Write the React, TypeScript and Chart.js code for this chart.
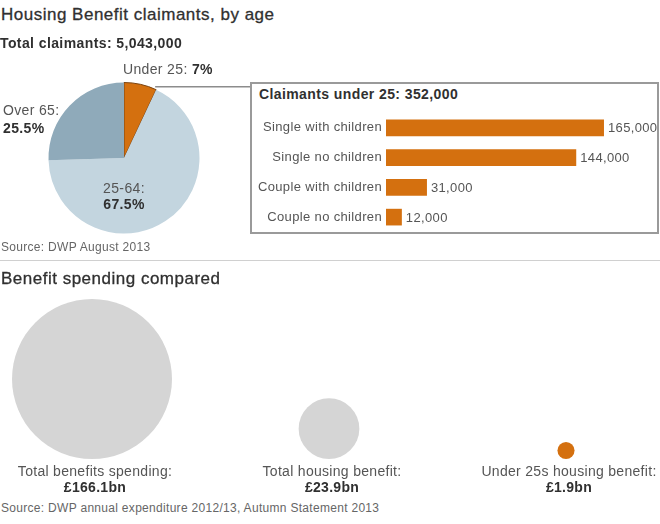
import React, { useEffect, useRef } from "react";
import { Chart, registerables } from "chart.js";

Chart.register(...registerables);

const FONT = '"Liberation Sans", Arial, Helvetica, sans-serif';

// ---- Data ----
const pieLabels = ["Under 25", "25-64", "Over 65"];
const pieShares = [7, 67.5, 25.5];
const totalClaimants = "5,043,000";

const under25Categories = [
  "Single with children",
  "Single no children",
  "Couple with children",
  "Couple no children",
];
const under25Values = [165000, 144000, 31000, 12000];
const under25Total = "352,000";

const spendingLabels = [
  "Total benefits spending:",
  "Total housing benefit:",
  "Under 25s housing benefit:",
];
const spendingValues = [166.1, 23.9, 1.9]; // £bn

// ---- Styles ----
const ORANGE = "#d4700f";
const PIE_COLORS = [ORANGE, "#c3d5df", "#8faaba"];
const BUBBLE_COLORS = ["#d5d5d5", "#d5d5d5", ORANGE];
const MAX_R = 80;
const DARK = "#303030";

const fmt = (v: number) => String(v).replace(/\B(?=(\d{3})+(?!\d))/g, ",");

function Txt(props: {
  left: number;
  top: number;
  size: number;
  bold?: boolean;
  color?: string;
  ls?: number;
  width?: number;
  align?: "left" | "center";
  stroke?: number;
  children: React.ReactNode;
}) {
  const { left, top, size, bold, color, ls, width, align, stroke, children } = props;
  const c = color || "#555";
  return (
    <div
      style={{
        position: "absolute",
        left,
        top,
        width,
        fontSize: size,
        lineHeight: `${size}px`,
        fontWeight: bold ? 700 : 400,
        color: c,
        letterSpacing: ls !== undefined ? ls : 0,
        whiteSpace: "nowrap",
        textAlign: align || "left",
        WebkitTextStroke: stroke ? `${stroke}px ${c}` : undefined,
      }}
    >
      {children}
    </div>
  );
}

function PieChart() {
  const ref = useRef<HTMLCanvasElement>(null);
  useEffect(() => {
    const connector = {
      id: "connector",
      afterDatasetsDraw(chart: any) {
        const arc = chart.getDatasetMeta(0).data[0];
        const p = arc.getProps(["x", "y", "endAngle", "outerRadius"], true);
        const tx = p.x + p.outerRadius * Math.cos(p.endAngle);
        const ty = p.y + p.outerRadius * Math.sin(p.endAngle) - 3;
        const ctx = chart.ctx;
        ctx.save();
        ctx.strokeStyle = "#8c8c8c";
        ctx.lineWidth = 1.5;
        ctx.beginPath();
        ctx.moveTo(tx - 1, ty);
        ctx.lineTo(chart.width, ty);
        ctx.stroke();
        ctx.restore();
      },
    };
    const chart = new Chart(ref.current!, {
      type: "pie",
      data: {
        labels: pieLabels,
        datasets: [
          {
            data: pieShares,
            backgroundColor: PIE_COLORS,
            borderColor: ["#7a4412", "#c3d5df", "#8faaba"],
            borderWidth: [1, 0, 0],
          },
        ],
      },
      options: {
        responsive: false,
        animation: false,
        devicePixelRatio: 1,
        events: [],
        layout: { autoPadding: false, padding: { left: 48, right: 50, top: 22, bottom: 6 } },
        plugins: { legend: { display: false }, tooltip: { enabled: false } },
      },
      plugins: [connector],
    } as any);
    return () => chart.destroy();
  }, []);
  return (
    <canvas
      ref={ref}
      width={250}
      height={180}
      style={{ position: "absolute", left: 0, top: 60, width: 250, height: 180 }}
    />
  );
}

function BarChart() {
  const ref = useRef<HTMLCanvasElement>(null);
  useEffect(() => {
    const spacing = {
      id: "spacing",
      beforeDraw(chart: any) {
        chart.ctx.letterSpacing = "0.35px";
      },
    };
    const valueLabels = {
      id: "valueLabels",
      afterDatasetsDraw(chart: any) {
        const ctx = chart.ctx;
        const meta = chart.getDatasetMeta(0);
        ctx.save();
        ctx.letterSpacing = "0.35px";
        ctx.font = `13px ${FONT}`;
        ctx.fillStyle = "#555";
        ctx.textAlign = "left";
        ctx.textBaseline = "middle";
        meta.data.forEach((bar: any, i: number) => {
          ctx.fillText(fmt(under25Values[i]), bar.x + 4, bar.y + 1);
        });
        ctx.restore();
      },
    };
    const chart = new Chart(ref.current!, {
      type: "bar",
      data: {
        labels: under25Categories,
        datasets: [
          {
            data: under25Values,
            backgroundColor: ORANGE,
            borderWidth: 0,
            categoryPercentage: 1,
            barPercentage: 0.56,
          },
        ],
      },
      options: {
        indexAxis: "y",
        responsive: false,
        animation: false,
        devicePixelRatio: 1,
        events: [],
        layout: { autoPadding: false, padding: { top: 8, right: 20, bottom: 0, left: 0 } },
        scales: {
          x: { display: false, min: 0, max: 190000 },
          y: {
            grid: { display: false, drawTicks: false },
            border: { display: false },
            ticks: { color: "#555", font: { family: FONT, size: 13 }, padding: 4 },
            afterFit(axis: any) {
              axis.width = 134;
              axis.paddingTop = 0;
              axis.paddingBottom = 0;
            },
          },
        },
        plugins: { legend: { display: false }, tooltip: { enabled: false } },
      },
      plugins: [spacing, valueLabels],
    } as any);
    return () => chart.destroy();
  }, []);
  return (
    <canvas
      ref={ref}
      width={405}
      height={127}
      style={{ position: "absolute", left: 252, top: 105, width: 405, height: 127 }}
    />
  );
}

function BubbleChart() {
  const ref = useRef<HTMLCanvasElement>(null);
  useEffect(() => {
    const maxV = Math.max(...spendingValues);
    const points = spendingValues.map((v, i) => {
      const r = MAX_R * Math.sqrt(v / maxV);
      return { x: i, y: r, r };
    });
    const labels = {
      id: "bubbleLabels",
      afterDatasetsDraw(chart: any) {
        const ctx = chart.ctx;
        const meta = chart.getDatasetMeta(0);
        const bottom = chart.chartArea.bottom;
        ctx.save();
        ctx.letterSpacing = "0.3px";
        ctx.textAlign = "center";
        ctx.textBaseline = "alphabetic";
        meta.data.forEach((el: any, i: number) => {
          ctx.font = `14px ${FONT}`;
          ctx.fillStyle = "#555";
          ctx.fillText(spendingLabels[i], el.x + 3, bottom + 17);
          ctx.font = `bold 14px ${FONT}`;
          ctx.fillStyle = DARK;
          ctx.fillText(`£${spendingValues[i]}bn`, el.x + 3, bottom + 33);
        });
        ctx.restore();
      },
    };
    const chart = new Chart(ref.current!, {
      type: "bubble",
      data: {
        labels: spendingLabels,
        datasets: [
          {
            data: points,
            backgroundColor: BUBBLE_COLORS,
            borderWidth: 0,
            clip: false,
          },
        ],
      },
      options: {
        responsive: false,
        animation: false,
        devicePixelRatio: 1,
        events: [],
        layout: { autoPadding: false, padding: { left: 92, right: 94, top: 5, bottom: 41 } },
        scales: {
          x: { type: "linear", display: false, min: 0, max: 2 },
          y: { type: "linear", display: false, min: 0, max: 164 },
        },
        plugins: { legend: { display: false }, tooltip: { enabled: false } },
      },
      plugins: [labels],
    } as any);
    return () => chart.destroy();
  }, []);
  return (
    <canvas
      ref={ref}
      width={660}
      height={210}
      style={{ position: "absolute", left: 0, top: 290, width: 660, height: 210 }}
    />
  );
}

export default function App() {
  return (
    <div
      style={{
        position: "absolute",
        left: 0,
        top: 0,
        width: 660,
        height: 524,
        background: "#fff",
        overflow: "hidden",
        fontFamily: FONT,
      }}
    >
      <PieChart />
      <div
        style={{
          position: "absolute",
          left: 250,
          top: 82,
          width: 409,
          height: 152,
          border: "2px solid #9a9a9a",
          boxSizing: "border-box",
        }}
      />
      <BarChart />
      <BubbleChart />

      <Txt left={1} top={6} size={17} ls={0.5} color={DARK} stroke={0.3}>
        Housing Benefit claimants, by age
      </Txt>
      <Txt left={0} top={36} size={14} ls={0.4} bold color={DARK}>
        Total claimants: {totalClaimants}
      </Txt>
      <Txt left={123} top={62} size={14} ls={0.35}>
        {pieLabels[0]}: <b style={{ color: DARK }}>{pieShares[0]}%</b>
      </Txt>
      <Txt left={3} top={103} size={14} ls={0.35}>
        {pieLabels[2]}:
      </Txt>
      <Txt left={3} top={121} size={14} ls={0.35} bold color={DARK}>
        {pieShares[2]}%
      </Txt>
      <Txt left={64} top={181} width={120} align="center" size={14} ls={0.35}>
        {pieLabels[1]}:
      </Txt>
      <Txt left={64} top={196.5} width={120} align="center" size={14} ls={0.35} bold color={DARK}>
        {pieShares[1]}%
      </Txt>
      <Txt left={259} top={87} size={14} ls={0.4} bold color={DARK}>
        Claimants under 25: {under25Total}
      </Txt>
      <Txt left={1} top={241} size={12} ls={0.3} color="#666">
        Source: DWP August 2013
      </Txt>
      <div
        style={{
          position: "absolute",
          left: 0,
          top: 260,
          width: 660,
          height: 1,
          background: "#d0d0d0",
        }}
      />
      <Txt left={1} top={270} size={17} ls={0.5} color={DARK} stroke={0.3}>
        Benefit spending compared
      </Txt>
      <Txt left={1} top={502} size={12} ls={0.3} color="#666">
        Source: DWP annual expenditure 2012/13, Autumn Statement 2013
      </Txt>
    </div>
  );
}
